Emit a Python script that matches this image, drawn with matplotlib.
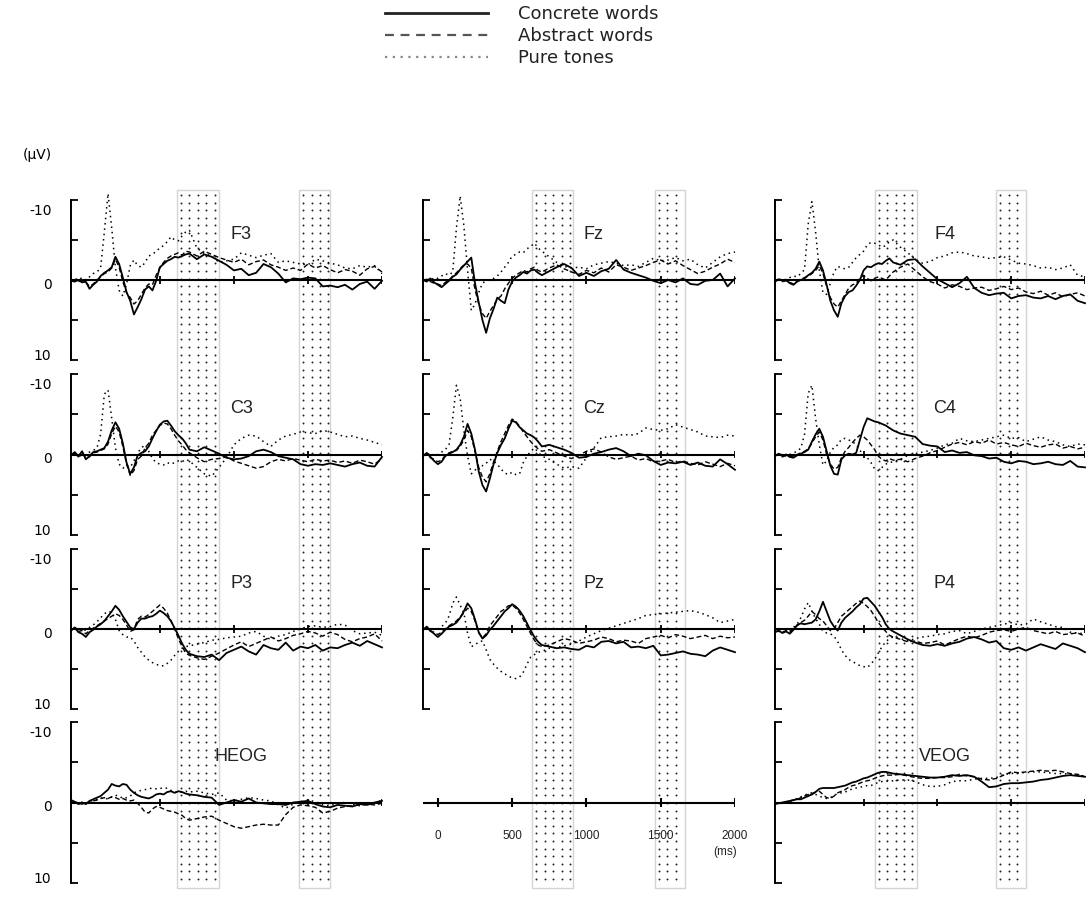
import numpy as np
import matplotlib
matplotlib.use('Agg')
import matplotlib.pyplot as plt
from matplotlib.patches import Rectangle
from matplotlib.lines import Line2D

W, H = 1089, 900

# time axis (ms): 25 ms steps early, 50 ms steps later
t = np.concatenate([np.arange(-100, 700, 25), np.arange(700, 2001, 50)])

# amplitudes in microvolts (negative is plotted upward)
f3_concrete = [0.1, 0.2, 0.0, 0.3, 0.2, 1.1, 0.6, 0.2,
               -0.5, -0.9, -1.2, -1.6, -2.9, -2.0, -0.3, 1.5,
               2.6, 4.3, 3.4, 2.4, 1.2, 0.8, 1.3, 0.1,
               -1.6, -2.0, -2.4, -2.6, -2.9, -2.8, -3.0, -3.2,
               -3.3, -2.6, -3.2, -2.9, -2.4, -1.9, -1.2, -1.4,
               -0.6, -0.9, -2.0, -1.6, -0.8, 0.3, -0.2, -0.1,
               -0.3, -0.2, 0.8, 0.7, 0.9, 0.6, 1.2, 0.5,
               0.2, 1.1, 0.1]
f3_abstract = [0.0, 0.1, 0.2, 0.1, 0.3, 0.8, 0.5, 0.0,
               -0.4, -0.8, -1.0, -1.5, -2.6, -1.6, 0.2, 1.6,
               2.2, 3.0, 2.6, 1.8, 1.0, 0.5, 0.6, -0.6,
               -1.5, -2.2, -2.7, -3.0, -3.2, -3.4, -3.1, -3.6,
               -3.5, -3.0, -3.6, -3.2, -2.8, -2.5, -2.2, -2.6,
               -1.9, -2.3, -2.5, -1.9, -1.6, -1.2, -1.5, -1.2,
               -2.0, -1.5, -1.8, -1.3, -0.9, -1.3, -1.1, -0.6,
               -1.4, -1.7, -1.0]
f3_tones = [0.1, -0.2, 0.0, -0.3, 0.0, -0.4, -0.8, -1.0,
            -1.5, -6.0, -10.8, -6.5, -1.5, 1.3, 2.0, 0.5,
            -1.8, -2.5, -1.8, -1.6, -2.2, -3.0, -3.2, -3.6,
            -4.0, -4.3, -4.8, -5.4, -5.0, -4.9, -5.5, -6.0,
            -6.2, -4.0, -3.3, -3.0, -2.2, -2.4, -2.6, -3.4,
            -3.1, -2.8, -3.1, -3.3, -2.2, -2.4, -2.2, -2.0,
            -1.9, -2.6, -2.4, -2.1, -1.9, -1.5, -1.4, -1.8,
            -1.6, -1.8, -0.8]

fz_concrete = [0.0, 0.2, -0.2, 0.3, 0.6, 0.9, 0.5, 0.1,
               -0.4, -0.7, -1.3, -1.8, -2.3, -2.8, 0.4, 2.8,
               5.0, 6.6, 4.8, 3.6, 2.2, 2.6, 2.9, 1.2,
               0.2, -0.3, -0.6, -1.0, -0.8, -1.2, -1.3, -0.9,
               -0.6, -1.1, -1.6, -2.0, -1.5, -0.5, -0.9, -0.5,
               -1.1, -1.4, -2.5, -1.3, -0.9, -0.6, -0.3, 0.1,
               0.4, 0.0, 0.3, -0.2, 0.5, 0.6, 0.1, 0.0,
               -0.8, 0.8, -0.2]
fz_abstract = [0.1, -0.1, 0.2, 0.4, 0.5, 0.7, 0.3, 0.0,
               -0.5, -0.9, -1.4, -1.9, -2.0, -1.5, 1.2, 3.0,
               4.2, 4.8, 3.9, 3.2, 2.4, 2.0, 1.1, 0.4,
               -0.2, -0.6, -0.9, -1.2, -1.0, -1.4, -1.6, -1.2,
               -1.0, -1.5, -1.9, -1.4, -1.0, -0.7, -1.2, -0.9,
               -1.5, -1.0, -1.9, -1.6, -1.2, -1.5, -1.8, -2.2,
               -2.5, -2.0, -2.4, -1.8, -1.3, -0.8, -1.1, -1.6,
               -2.0, -2.6, -2.2]
fz_tones = [0.0, -0.2, 0.1, -0.3, -0.2, -0.5, -0.8, -0.6,
            -1.0, -6.5, -10.5, -6.8, -1.2, 3.8, 3.0, 1.6,
            0.4, 0.1, 0.0, -0.2, -0.5, -1.0, -1.6, -2.2,
            -3.0, -3.2, -3.5, -3.4, -3.9, -4.2, -4.6, -4.0,
            -3.6, -2.9, -2.2, -1.7, -1.5, -1.6, -1.4, -1.9,
            -2.1, -2.3, -2.1, -1.8, -1.9, -1.7, -2.2, -2.7,
            -2.4, -2.5, -2.8, -2.4, -2.6, -1.9, -1.5, -2.2,
            -2.9, -3.3, -3.5]

f4_concrete = [0.2, -0.1, 0.1, 0.0, 0.4, 0.6, 0.2, 0.0,
               -0.2, -0.6, -0.9, -1.4, -2.3, -1.2, 0.6, 2.6,
               3.8, 4.6, 2.9, 2.0, 1.5, 1.3, 0.7, 0.0,
               -1.2, -1.7, -1.6, -1.9, -2.1, -2.0, -2.4, -2.7,
               -2.2, -1.9, -2.5, -2.6, -1.7, -0.9, -0.1, 0.4,
               0.9, 0.4, -0.4, 1.0, 1.6, 1.9, 1.7, 1.6,
               2.3, 2.0, 1.9, 2.2, 2.3, 2.0, 2.4, 2.0,
               1.8, 2.6, 2.9]
f4_abstract = [0.1, 0.0, 0.2, 0.1, 0.3, 0.5, 0.1, -0.1,
               -0.3, -0.5, -0.8, -1.2, -1.8, -0.8, 0.8, 2.2,
               3.0, 3.4, 2.6, 1.8, 1.0, 0.6, 0.4, -0.2,
               -0.6, -0.2, 0.1, -0.2, -0.4, -0.2, 0.0, -0.5,
               -1.0, -1.6, -2.0, -1.2, -0.4, 0.2, 0.5, 1.0,
               0.6, 0.8, 1.2, 1.0, 0.9, 1.3, 1.1, 0.8,
               1.2, 1.0, 1.5, 1.7, 1.4, 1.9, 1.6, 2.1,
               1.8, 1.6, 2.0]
f4_tones = [0.0, -0.2, 0.1, -0.1, -0.3, -0.5, -0.4, -0.8,
            -1.3, -7.0, -9.8, -6.0, -1.2, 1.6, 1.8, 0.4,
            -1.0, -1.7, -1.5, -1.4, -1.6, -2.2, -2.8, -3.2,
            -3.6, -4.4, -4.7, -4.6, -4.4, -4.1, -4.3, -4.8,
            -5.0, -4.1, -3.4, -2.6, -2.1, -2.3, -2.8, -3.0,
            -3.4, -3.5, -3.3, -3.0, -2.9, -2.7, -2.8, -2.9,
            -2.5, -2.1, -2.0, -1.8, -1.5, -1.6, -1.3, -1.5,
            -1.9, -0.6, -0.4]

c3_concrete = [0.1, -0.3, 0.2, -0.4, 0.6, 0.2, -0.3, -0.4,
               -0.6, -0.8, -1.6, -3.0, -4.0, -3.2, -1.4, 1.0,
               2.4, 1.6, 0.1, -0.2, -0.4, -1.0, -2.0, -2.9,
               -3.7, -4.1, -4.2, -3.6, -2.9, -2.4, -2.0, -1.4,
               -0.6, -0.4, -0.9, -0.5, -0.1, 0.4, 0.6, 0.5,
               0.2, -0.4, -0.6, -0.3, 0.2, 0.4, 0.6, 1.2,
               1.4, 1.2, 1.3, 1.1, 1.3, 1.5, 1.2, 1.0,
               1.4, 1.5, 0.3]
c3_abstract = [0.0, -0.2, 0.3, -0.2, 0.4, 0.3, -0.2, -0.3,
               -0.5, -0.7, -1.3, -2.6, -3.5, -2.8, -1.0, 1.2,
               2.6, 2.0, 0.6, 0.2, -0.8, -1.4, -2.4, -3.0,
               -3.6, -3.9, -3.8, -3.2, -2.4, -1.7, -1.2, -0.6,
               -0.2, 0.4, 0.9, 0.6, 0.5, 0.3, 0.8, 1.1,
               1.4, 1.7, 1.5, 0.9, 0.6, 0.8, 0.5, 0.7,
               0.9, 0.6, 0.8, 0.7, 1.0, 0.8, 1.1, 0.7,
               0.9, 1.2, 0.5]
c3_tones = [0.0, 0.2, -0.1, 0.3, 0.0, -0.3, -0.5, -0.8,
            -2.5, -7.5, -8.0, -4.5, -0.8, 1.2, 1.7, 1.4,
            1.6, 0.8, -0.2, -0.8, -1.2, -0.4, 0.5, 1.0,
            1.2, 1.3, 1.0, 1.2, 1.0, 0.8, 0.9, 0.6,
            0.8, 1.6, 2.4, 2.7, 1.6, 0.4, -1.2, -2.0,
            -2.4, -2.3, -1.6, -1.0, -1.8, -2.3, -2.5, -2.8,
            -2.7, -2.6, -3.0, -2.8, -2.5, -2.2, -2.3, -2.0,
            -1.8, -1.5, -1.2]

cz_concrete = [0.2, -0.2, 0.3, 0.8, 1.2, 0.9, 0.2, -0.1,
               -0.3, -0.6, -1.2, -2.2, -3.8, -2.6, -0.6, 2.1,
               3.8, 4.6, 3.0, 1.2, -0.2, -1.2, -2.0, -3.2,
               -4.2, -4.0, -3.4, -3.0, -2.6, -2.4, -2.1, -1.6,
               -1.0, -1.2, -0.9, -0.6, -0.2, 0.4, 0.3, -0.1,
               -0.3, -0.6, -0.8, -0.4, 0.2, -0.1, 0.1, 0.8,
               1.3, 1.0, 1.1, 0.9, 1.3, 1.0, 1.4, 1.5,
               0.6, 1.2, 1.9]
cz_abstract = [0.1, 0.0, 0.4, 0.6, 0.9, 0.7, 0.1, -0.2,
               -0.4, -0.5, -1.0, -1.8, -3.0, -2.2, -0.4, 1.6,
               2.8, 3.4, 2.4, 0.9, -0.4, -1.6, -2.6, -3.6,
               -4.4, -4.1, -3.5, -2.8, -2.2, -1.6, -1.1, -0.7,
               -0.4, -0.6, -0.2, 0.2, 0.5, 0.1, -0.4, -0.7,
               -0.3, 0.3, 0.6, 0.4, 0.2, 0.7, 0.5, 0.9,
               0.8, 0.6, 1.0, 0.8, 1.1, 1.3, 0.9, 1.2,
               1.5, 1.1, 1.4]
cz_tones = [0.0, 0.1, -0.2, 0.2, 0.0, -0.3, -0.6, -1.2,
            -4.5, -8.6, -7.0, -3.0, 0.2, 2.4, 2.0, 1.2,
            1.4, 1.1, 0.6, 0.8, 1.2, 1.8, 2.3, 2.5,
            2.2, 2.5, 2.4, 1.0, 0.2, -0.4, -0.8, -0.3,
            0.2, 0.6, 1.2, 1.7, 1.5, 1.7, 0.4, -0.8,
            -2.1, -2.2, -2.3, -2.5, -2.4, -2.6, -3.3, -3.1,
            -3.0, -3.2, -3.7, -3.4, -3.1, -2.8, -2.3, -2.2,
            -2.1, -2.4, -2.3]

c4_concrete = [0.2, -0.1, 0.2, 0.0, 0.3, 0.4, 0.1, -0.1,
               -0.3, -0.6, -1.6, -2.5, -3.2, -2.2, -0.4, 1.4,
               2.4, 2.5, 0.6, 0.1, -0.1, 0.0, -0.2, -1.8,
               -3.4, -4.5, -4.3, -4.1, -4.0, -3.8, -3.6, -3.3,
               -3.0, -2.6, -2.4, -2.2, -1.3, -1.1, -1.0, -0.3,
               -0.5, -0.2, -0.3, 0.1, 0.2, 0.5, 0.4, 0.9,
               1.1, 0.8, 0.9, 1.2, 1.1, 0.9, 1.2, 1.3,
               0.8, 1.5, 1.6]
c4_abstract = [0.1, 0.0, 0.3, 0.1, 0.2, 0.3, 0.0, -0.2,
               -0.4, -0.7, -1.4, -2.2, -2.8, -1.8, 0.0, 1.2,
               1.8, 1.6, 0.4, -0.4, -0.9, -1.5, -2.0, -2.4,
               -2.2, -1.8, -1.2, -0.6, 0.2, 0.6, 0.8, 0.5,
               0.7, 0.6, 0.9, 0.5, 0.2, -0.2, -0.5, -0.9,
               -1.3, -1.5, -1.2, -1.6, -1.4, -1.8, -1.3, -1.5,
               -1.2, -1.0, -1.4, -1.1, -0.9, -1.2, -1.3, -0.8,
               -1.0, -0.7, -0.9]
c4_tones = [0.0, 0.1, -0.1, 0.2, 0.0, -0.2, -0.4, -0.8,
            -2.5, -7.6, -8.6, -4.5, -1.2, 1.3, 0.8, -0.3,
            -0.9, -1.2, -1.9, -2.0, -1.8, -1.6, -1.2, -0.5,
            0.0, 0.4, 1.0, 1.8, 2.0, 1.6, 1.2, 1.0,
            0.9, 0.6, 0.1, -0.1, -0.3, -0.5, -0.8, -1.2,
            -1.4, -2.0, -1.7, -1.6, -1.8, -2.0, -2.2, -2.4,
            -2.0, -2.1, -1.6, -1.9, -2.2, -1.8, -1.6, -1.2,
            -1.0, -1.3, -1.2]

p3_concrete = [0.2, -0.2, 0.4, 0.6, 1.0, 0.4, 0.1, -0.3,
               -0.6, -1.0, -1.6, -2.2, -2.9, -2.4, -1.6, -0.9,
               -0.2, 0.0, -0.8, -1.3, -1.3, -1.5, -1.6, -1.9,
               -2.3, -2.0, -1.6, -1.0, -0.1, 0.8, 1.8, 2.6,
               3.1, 3.4, 3.5, 3.2, 3.9, 3.0, 2.6, 2.2,
               2.8, 3.2, 2.0, 2.4, 2.6, 1.7, 2.7, 2.2,
               2.4, 2.0, 2.7, 2.3, 2.4, 2.0, 1.7, 2.1,
               1.5, 1.9, 2.3]
p3_abstract = [0.1, 0.0, 0.3, 0.2, 0.6, 0.2, -0.1, -0.4,
               -0.7, -1.0, -1.3, -1.6, -1.9, -1.7, -1.2, -0.5,
               0.3, 0.1, -1.2, -1.6, -1.5, -1.8, -2.2, -2.6,
               -3.0, -2.6, -2.0, -1.0, 0.0, 1.2, 2.2, 3.0,
               3.3, 3.6, 3.8, 3.4, 3.0, 2.5, 2.0, 1.6,
               2.2, 1.8, 1.4, 1.0, 1.5, 1.2, 0.8, 0.6,
               0.3, 0.5, 0.9, 0.4, 0.7, 1.3, 1.6, 1.2,
               1.0, 0.6, 1.5]
p3_tones = [0.0, 0.1, -0.2, 0.3, 0.1, -0.2, -0.5, -0.9,
            -1.4, -1.9, -2.2, -2.1, -1.2, 0.2, 0.7, 1.0,
            1.0, 1.5, 2.3, 2.9, 3.5, 3.9, 4.2, 4.4,
            4.6, 4.6, 4.3, 3.9, 3.3, 2.8, 2.4, 2.2,
            2.1, 1.9, 1.7, 1.4, 1.3, 1.1, 1.0, 0.9,
            0.5, 0.3, 0.9, 1.3, 0.9, 0.7, 0.3, 0.0,
            -0.3, -0.4, -0.2, -0.3, -0.6, -0.5, 0.2, 0.6,
            0.5, 0.4, 0.8]

pz_concrete = [0.1, -0.3, 0.2, 0.6, 1.0, 0.6, 0.1, -0.3,
               -0.5, -0.8, -1.4, -2.2, -3.2, -2.6, -1.2, 0.4,
               1.2, 0.8, 0.1, -0.4, -1.0, -1.6, -2.2, -2.6,
               -3.1, -2.8, -2.3, -1.6, -0.7, 0.2, 1.0, 1.6,
               2.0, 2.2, 2.4, 2.3, 2.5, 2.6, 2.1, 2.3,
               1.6, 1.5, 1.8, 1.6, 2.3, 2.2, 2.4, 2.1,
               3.3, 3.2, 3.0, 2.8, 3.1, 3.2, 3.4, 2.7,
               2.3, 2.6, 2.9]
pz_abstract = [0.0, -0.1, 0.3, 0.4, 0.7, 0.4, 0.0, -0.4,
               -0.7, -1.0, -1.5, -2.0, -2.6, -2.2, -1.0, 0.5,
               1.1, 0.6, -0.4, -1.0, -1.6, -2.2, -2.5, -2.9,
               -3.0, -2.6, -2.0, -1.2, -0.3, 0.6, 1.4, 2.0,
               2.2, 2.0, 1.6, 1.2, 1.4, 1.8, 1.6, 1.4,
               1.0, 1.2, 1.6, 1.4, 1.5, 1.8, 1.2, 1.0,
               0.8, 1.1, 0.7, 0.9, 1.2, 1.0, 0.8, 1.2,
               0.9, 1.1, 1.0]
pz_tones = [0.0, 0.2, -0.1, 0.1, 0.0, -0.3, -0.7, -1.6,
            -3.2, -4.0, -3.0, -2.0, 0.5, 2.2, 2.0, 1.6,
            1.5, 2.6, 3.8, 4.4, 4.9, 5.3, 5.6, 5.9,
            6.1, 6.2, 6.0, 5.4, 4.4, 3.5, 3.2, 2.9,
            2.8, 2.4, 2.3, 2.1, 1.9, 1.5, 1.0, 0.6,
            0.2, -0.1, -0.4, -0.7, -1.0, -1.3, -1.7, -1.8,
            -1.9, -2.0, -2.1, -2.2, -2.3, -2.1, -1.8, -1.4,
            -0.8, -1.0, -1.2]

p4_concrete = [0.4, 0.2, 0.5, 0.3, 0.6, 0.1, -0.5, -0.7,
               -0.6, -0.7, -0.8, -1.2, -2.2, -3.4, -2.2, -1.0,
               -0.3, 0.2, -0.8, -1.4, -1.8, -2.2, -2.7, -3.1,
               -3.8, -3.9, -3.4, -2.9, -2.2, -1.5, -0.6, 0.0,
               0.3, 0.8, 1.3, 1.7, 2.0, 2.1, 1.9, 2.1,
               1.8, 1.6, 1.2, 1.0, 1.3, 1.7, 1.5, 2.4,
               2.6, 2.3, 2.7, 2.3, 1.9, 2.2, 2.5, 1.8,
               2.1, 2.4, 2.9]
p4_abstract = [0.3, 0.3, 0.4, 0.2, 0.4, 0.0, -0.4, -0.8,
               -1.1, -1.6, -2.2, -1.8, -1.3, -1.0, -0.4, 0.2,
               0.0, -0.8, -1.6, -2.0, -2.4, -2.8, -3.2, -3.5,
               -3.2, -2.8, -2.3, -1.6, -0.8, -0.2, 0.3, 0.8,
               1.0, 1.3, 1.6, 1.5, 1.8, 1.7, 1.5, 2.0,
               1.6, 1.2, 0.9, 1.1, 0.8, 0.4, 0.2, 0.1,
               0.3, 0.0, -0.2, 0.2, 0.4, 0.6, 0.3, 0.7,
               0.6, 0.5, 0.9]
p4_tones = [0.0, 0.2, -0.1, 0.0, 0.2, -0.2, -0.6, -1.4,
            -2.5, -3.3, -2.2, -1.3, -0.6, 0.3, 0.5, 0.6,
            0.9, 1.6, 2.6, 3.3, 3.8, 4.1, 4.3, 4.6,
            4.7, 4.8, 4.4, 3.8, 3.0, 2.2, 1.6, 1.2,
            1.0, 1.2, 1.5, 1.2, 1.0, 0.9, 0.7, 0.6,
            0.3, 0.2, 0.6, 0.3, 0.0, -0.2, -0.4, -0.6,
            -0.8, -0.5, -0.6, -1.25, -0.9, -0.6, -0.3, -0.2,
            0.4, 0.5, 0.6]

heog_concrete = [-0.3, -0.1, 0.2, 0.0, 0.2, -0.2, -0.4, -0.6,
                 -0.8, -1.2, -1.6, -2.3, -2.1, -2.0, -2.3, -2.2,
                 -1.6, -1.2, -0.9, -0.7, -0.6, -0.5, -0.7, -1.0,
                 -1.1, -1.0, -1.3, -1.4, -1.2, -1.4, -1.3, -1.1,
                 -1.0, -0.9, -0.7, -0.6, 0.3, 0.0, -0.3, -0.1,
                 -0.5, 0.0, 0.1, 0.2, 0.2, 0.3, 0.0, -0.1,
                 -0.2, 0.2, 0.5, 0.6, 0.3, 0.4, 0.5, 0.2,
                 0.3, 0.0, -0.2]
heog_abstract = [-0.1, 0.0, 0.1, 0.2, 0.1, 0.0, -0.2, -0.3,
                 -0.5, -0.6, -0.5, -0.7, -0.6, -0.4, -0.5, -0.3,
                 -0.2, -0.3, 0.1, 0.6, 1.2, 1.3, 0.8, 0.5,
                 0.6, 0.8, 1.0, 1.1, 1.2, 1.4, 1.6, 2.0,
                 2.2, 2.0, 1.8, 1.7, 2.2, 2.6, 3.0, 3.2,
                 3.0, 2.8, 2.7, 2.8, 2.8, 1.5, 0.6, 0.3,
                 0.4, 0.6, 1.3, 1.1, 0.7, 0.5, 0.4, 0.3,
                 0.2, 0.3, 0.1]
heog_tones = [0.0, 0.1, -0.1, 0.0, 0.2, -0.1, -0.3, -0.4,
              -0.5, -0.6, -0.4, -0.7, -0.9, -0.8, -0.5, -0.6,
              -0.8, -1.2, -1.4, -1.5, -1.6, -1.7, -1.8, -1.7,
              -1.8, -1.7, -1.8, -1.5, -1.4, -1.2, -1.3, -1.4,
              -1.3, -1.4, -1.2, -1.0, -1.2, -0.3, -0.2, -0.4,
              -0.6, -0.5, -0.3, -0.2, 0.3, 0.7, 0.2, -0.1,
              -0.3, -0.1, 0.3, 0.4, 0.1, 0.0, 0.2, 0.4,
              0.2, 0.1, -0.3]

veog_concrete = [0.2, 0.1, 0.0, -0.1, -0.2, -0.3, -0.4, -0.4,
                 -0.6, -0.8, -1.0, -1.3, -1.7, -1.8, -1.8, -1.8,
                 -1.8, -1.9, -2.0, -2.1, -2.3, -2.5, -2.6, -2.8,
                 -3.0, -3.1, -3.3, -3.5, -3.7, -3.8, -3.8, -3.7,
                 -3.6, -3.5, -3.4, -3.3, -3.2, -3.1, -3.1, -3.2,
                 -3.4, -3.3, -3.4, -3.2, -2.6, -1.9, -2.0, -2.3,
                 -2.4, -2.4, -2.5, -2.6, -2.8, -2.9, -3.1, -3.3,
                 -3.4, -3.3, -3.2]
veog_abstract = [0.1, 0.1, 0.0, 0.0, -0.2, -0.3, -0.4, -0.6,
                 -0.8, -1.0, -1.1, -1.3, -1.4, -1.0, -0.6, -0.5,
                 -0.8, -1.2, -1.4, -1.6, -1.9, -2.1, -2.2, -2.4,
                 -2.6, -2.7, -2.8, -3.0, -3.2, -3.3, -3.4, -3.4,
                 -3.4, -3.5, -3.3, -3.1, -3.0, -3.0, -3.1, -3.1,
                 -3.2, -3.5, -3.3, -3.2, -2.9, -2.8, -3.0, -3.4,
                 -3.8, -3.7, -3.8, -3.9, -4.0, -3.9, -4.0, -3.8,
                 -3.6, -3.5, -3.2]
veog_tones = [0.0, 0.1, 0.1, 0.0, -0.1, -0.3, -0.5, -0.7,
              -0.9, -1.1, -1.2, -1.0, -0.8, -0.6, -0.5, -0.6,
              -0.9, -1.1, -1.2, -1.3, -1.5, -1.7, -1.8, -1.9,
              -2.0, -2.1, -2.1, -2.3, -2.5, -2.6, -2.6, -2.7,
              -2.7, -2.8, -2.8, -2.6, -2.2, -2.0, -2.0, -2.2,
              -2.6, -2.7, -2.7, -2.9, -3.0, -3.0, -3.1, -3.5,
              -3.6, -3.7, -3.7, -3.8, -3.8, -3.7, -3.6, -3.6,
              -3.5, -3.4, -3.25]

waves = {
    "F3": (f3_concrete, f3_abstract, f3_tones),
    "Fz": (fz_concrete, fz_abstract, fz_tones),
    "F4": (f4_concrete, f4_abstract, f4_tones),
    "C3": (c3_concrete, c3_abstract, c3_tones),
    "Cz": (cz_concrete, cz_abstract, cz_tones),
    "C4": (c4_concrete, c4_abstract, c4_tones),
    "P3": (p3_concrete, p3_abstract, p3_tones),
    "Pz": (pz_concrete, pz_abstract, pz_tones),
    "P4": (p4_concrete, p4_abstract, p4_tones),
    "HEOG": (heog_concrete, heog_abstract, heog_tones),
    "VEOG": (veog_concrete, veog_abstract, veog_tones),
}
for name, series in waves.items():
    for s in series:
        if len(s) != len(t):
            raise ValueError(name + " has %d values" % len(s))

conditions = ["Concrete words", "Abstract words", "Pure tones"]
grid = [["F3", "Fz", "F4"],
        ["C3", "Cz", "C4"],
        ["P3", "Pz", "P4"],
        ["HEOG", None, "VEOG"]]
# analysis windows (ms) drawn as dotted bands, one pair per column
windows = [[(616, 900), (1440, 1650)],
           [(635, 912), (1460, 1662)],
           [(576, 859), (1400, 1603)]]
zero_ticks = [500, 1000, 1500, 2000]
time_ticks = [0, 500, 1000, 1500, 2000]
volt_ticks = [-10, -5, 0, 5, 10]
volt_labels = [("-10", -8.6), ("0", 0.6), ("10", 9.5)]

# layout in pixels
col_px = [(71, 382), (423, 735), (775, 1085)]
row_px = [(200, 360), (374, 535), (549, 709), (722, 883)]
styles = [dict(ls='-', lw=1.3),
          dict(ls=(0, (3.5, 2)), lw=1.0),
          dict(ls=(0, (1, 2.5)), lw=1.1)]


def px_box(x0, y0, x1, y1):
    return [x0 / W, 1 - y1 / H, (x1 - x0) / W, (y1 - y0) / H]


plt.rcParams['font.family'] = ['DejaVu Sans']
fig = plt.figure(figsize=(W / 100, H / 100), dpi=100)

# dotted bands behind each column
for c, (cx0, cx1) in enumerate(col_px):
    axb = fig.add_axes(px_box(cx0, 0, cx1, H), zorder=0)
    axb.set_xlim(-100, 2000)
    axb.set_ylim(H, 0)
    axb.axis('off')
    for t0, t1 in windows[c]:
        axb.add_patch(Rectangle((t0, 190), t1 - t0, 698, facecolor='white',
                                edgecolor='#d4d4d4', lw=1.0))
        xs = np.arange(t0 + 27, t1 - 5, 57)
        ys = np.arange(195, 886, 7.6)
        gx, gy = np.meshgrid(xs, ys)
        axb.plot(gx.ravel(), gy.ravel(), 'o', ms=1.4, mew=0, color='#222222')

for r, row in enumerate(grid):
    for c, name in enumerate(row):
        cx0, cx1 = col_px[c]
        ry0, ry1 = row_px[r]
        ax = fig.add_axes(px_box(cx0, ry0, cx1, ry1), zorder=1)
        ax.set_facecolor('none')
        ax.set_xlim(-100, 2000)
        ax.set_ylim(10, -10)
        for side in ['top', 'right', 'bottom']:
            ax.spines[side].set_visible(False)
        ax.set_xticks([])
        ax.axhline(0, color='black', lw=1.5)

        if name is None:
            # time scale only
            ax.spines['left'].set_visible(False)
            ax.set_yticks([])
            ax.vlines(time_ticks, -0.55, 0.55, color='black', lw=1.5)
            for tk in time_ticks:
                ax.text(tk, 4.2, str(tk), ha='center', va='center',
                        fontsize=8.5, family='Liberation Sans', color='#222222')
            ax.text(1935, 6.1, "(ms)", ha='center', va='center',
                    fontsize=8.5, family='Liberation Sans', color='#222222')
            continue

        ax.spines['left'].set_linewidth(1.4)
        ax.set_yticks(volt_ticks)
        ax.tick_params(axis='y', direction='in', length=5, width=1.3,
                       labelleft=False)
        ax.vlines(zero_ticks, -0.45, 0.45, color='black', lw=1.3)
        if c == 0:
            for lab, yv in volt_labels:
                ax.annotate(lab, xy=(0, yv), xycoords=ax.get_yaxis_transform(),
                            xytext=(-14, 0), textcoords='offset points',
                            ha='right', va='center', fontsize=10)

        for values, st in zip(waves[name], styles):
            ax.plot(t, values, color='black', clip_on=False, **st)
        ax.text(1050, -5.7, name, ha='center', va='center', fontsize=13,
                family='Liberation Sans', color='#222222')

# unit label and legend
fig.text(37 / W, 1 - 155 / H, "(μV)", ha='center', va='center', fontsize=10)
handles = [Line2D([], [], color='#222222', ls='-', lw=2.0),
           Line2D([], [], color='#555555', ls=(0, (4, 3)), lw=1.6),
           Line2D([], [], color='#888888', ls=(0, (1, 2.5)), lw=1.6)]
fig.legend(handles, conditions, loc='upper left',
           bbox_to_anchor=(385 / W, 1 - 5 / H), frameon=False,
           fontsize=13, handlelength=5.7, handletextpad=1.65,
           labelspacing=0.22, borderpad=0, borderaxespad=0,
           labelcolor='#222222')

fig.savefig('out.png', dpi=100)
